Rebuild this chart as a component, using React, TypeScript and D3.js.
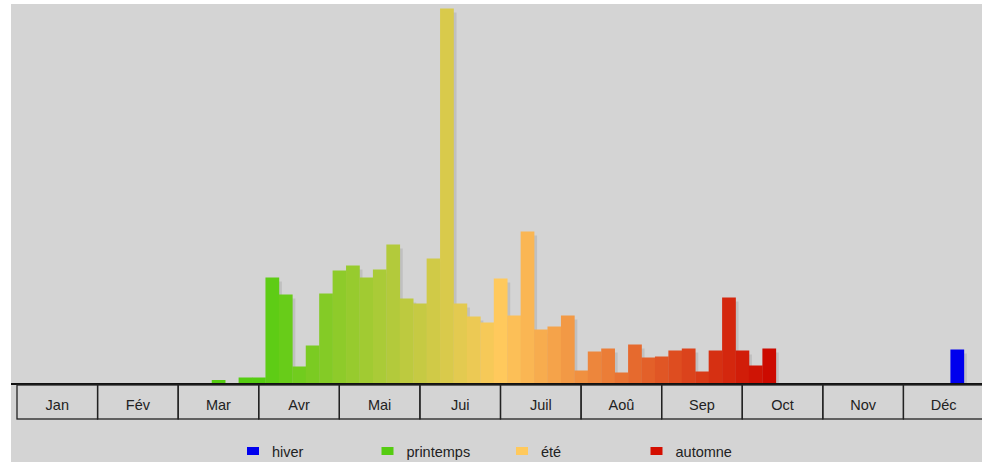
import React from 'react';
import * as d3 from 'd3';

// 5-day periods over the year, 6 per month (72 bins)
const months = ['Jan', 'Fév', 'Mar', 'Avr', 'Mai', 'Jui', 'Juil', 'Aoû', 'Sep', 'Oct', 'Nov', 'Déc'];
const values = [
  0, 0, 0, 0, 0, 0,            // Jan
  0, 0, 0, 0, 0, 0,            // Fév
  0, 0, 3.5, 0, 6, 6,          // Mar
  106, 89, 17, 38, 90, 113,    // Avr
  118, 106, 114, 139, 85, 80,  // Mai
  125, 375, 80, 67, 61, 105,   // Jui
  68, 152, 54, 57, 68, 13,     // Juil
  32, 35, 11, 39, 26, 27,      // Aoû
  33, 35, 12, 33, 86, 33,      // Sep
  18, 35, 0, 0, 0, 0,          // Oct
  0, 0, 0, 0, 0, 0,            // Nov
  0, 0, 0, 34, 0, 0,           // Déc
];
const seasons = ['hiver', 'printemps', 'été', 'automne'];
const seasonColors = ['#0000ee', '#55cc11', '#ffc95c', '#d40e00'];

const W = 982;
const H = 462;

export default function App() {
  const x = d3.scaleLinear().domain([0, 72]).range([17, 984]);
  const y = d3.scaleLinear().domain([0, 375]).range([383.5, 8.5]);
  const bw = x(1) - x(0);

  // winter blue, then gradient printemps -> été -> automne
  const grad = d3.scaleLinear<string>()
    .domain([17, 35, 55])
    .range(['#55cc11', '#ffc95c', '#cc0a00'])
    .interpolate(d3.interpolateRgb)
    .clamp(true);
  const colorOf = (i: number) => (i >= 60 || i < 12 ? '#0000ee' : grad(i));

  const monthX = d3.scaleBand().domain(months).range([17, 984]);
  const legendX = d3.scaleLinear().domain([0, 1]).range([247, 381.5]);

  const bars = values.map((v, i) => ({ v, i })).filter(d => d.v > 0);

  return (
    <div style={{ position: 'absolute', left: 0, top: 0 }}>
      <svg width={W} height={H} style={{ display: 'block', fontFamily: 'Liberation Sans, Arial, sans-serif' }}>
        <rect x={11} y={4} width={W - 11} height={H - 4} fill="#d4d4d4" />
        {/* shadows */}
        {bars.map(d => (
          <rect key={'s' + d.i} x={x(d.i + 0.5) + 3} y={y(d.v) + 4} width={bw}
            height={y(0) - y(d.v) - 4} fill="#a8a8a8" opacity={0.45} />
        ))}
        {bars.map(d => (
          <rect key={'b' + d.i} x={x(d.i + 0.5)} y={y(d.v)} width={bw + 0.3}
            height={y(0) - y(d.v)} fill={colorOf(d.i)} />
        ))}
        {/* axis line */}
        <line x1={11} x2={W} y1={384} y2={384} stroke="#111" strokeWidth={2} />
        {months.map(m => (
          <g key={m}>
            <rect x={monthX(m)!} y={385} width={monthX.bandwidth()} height={34}
              fill="none" stroke="#222" strokeWidth={1.3} />
            <text x={monthX(m)! + monthX.bandwidth() / 2} y={410} textAnchor="middle"
              fontSize={14.5} fill="#222">{m}</text>
          </g>
        ))}
        {seasons.map((s, k) => (
          <g key={s}>
            <rect x={legendX(k)} y={447} width={12} height={8} fill={seasonColors[k]} />
            <text x={legendX(k) + 25} y={457} fontSize={14.5} fill="#222">{s}</text>
          </g>
        ))}
      </svg>
    </div>
  );
}
